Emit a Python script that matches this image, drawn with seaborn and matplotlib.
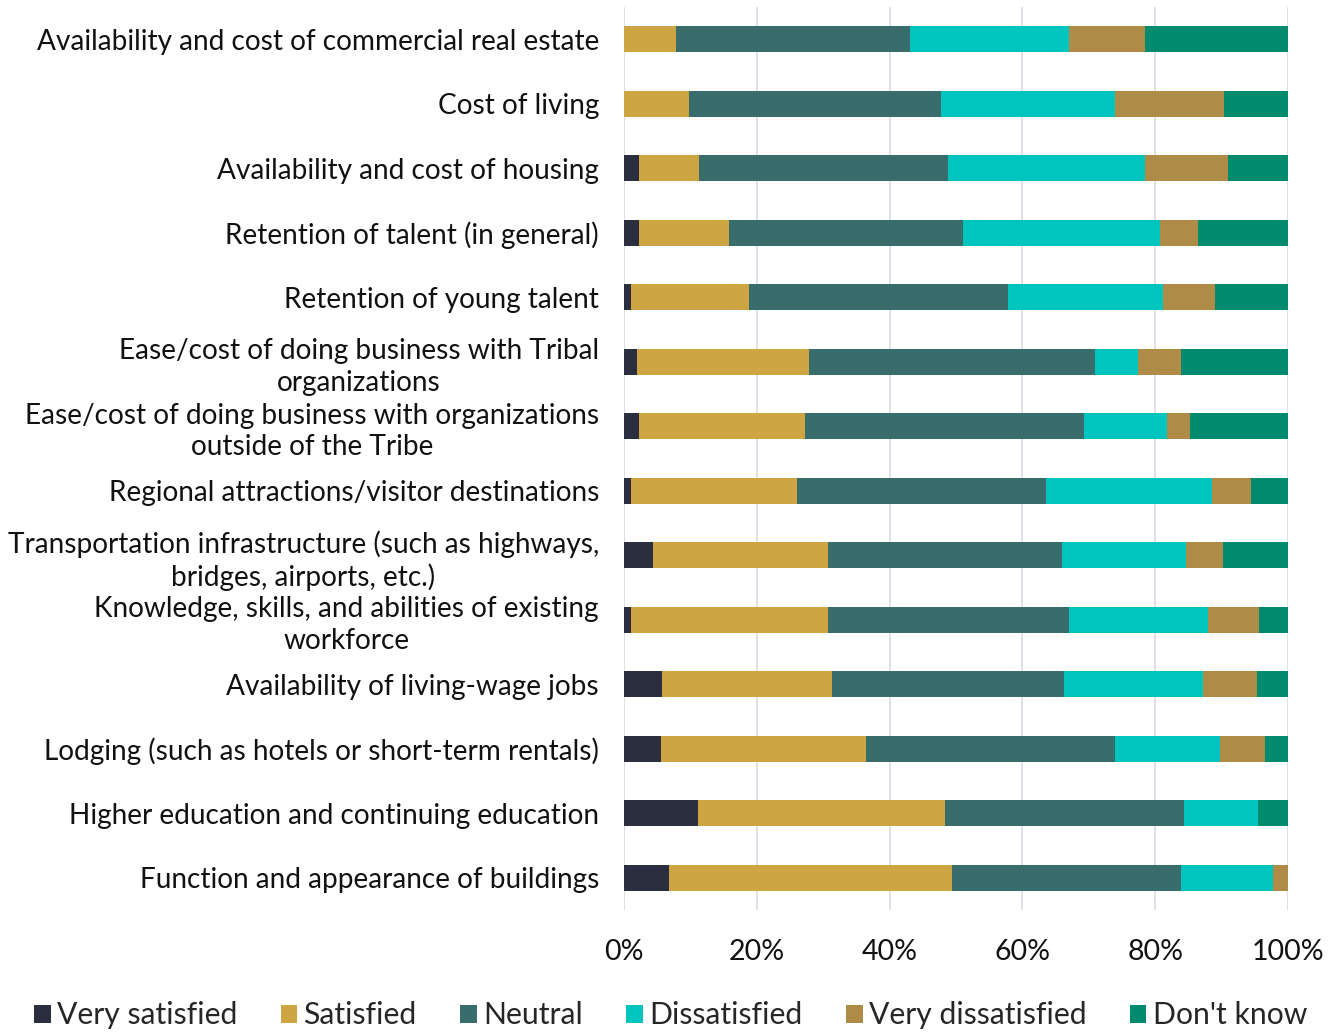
import matplotlib
matplotlib.use("Agg")
import matplotlib.pyplot as plt
from matplotlib.patches import Patch
import seaborn as sns
import pandas as pd

categories = [
    "Availability and cost of commercial real estate",
    "Cost of living",
    "Availability and cost of housing",
    "Retention of talent (in general)",
    "Retention of young talent",
    "Ease/cost of doing business with Tribal\norganizations",
    "Ease/cost of doing business with organizations\noutside of the Tribe",
    "Regional attractions/visitor destinations",
    "Transportation infrastructure (such as highways,\nbridges, airports, etc.)",
    "Knowledge, skills, and abilities of existing\nworkforce",
    "Availability of living-wage jobs",
    "Lodging (such as hotels or short-term rentals)",
    "Higher education and continuing education",
    "Function and appearance of buildings",
]

very_satisfied = [0, 0, 2.2, 2.2, 1.1, 2.0, 2.2, 1.1, 4.3, 1.1, 5.7, 5.6, 11.2, 6.8]
satisfied = [7.9, 9.8, 9.1, 13.6, 17.8, 25.8, 25.1, 25.0, 26.4, 29.6, 25.7, 30.8, 37.2, 42.6]
neutral = [35.2, 38.0, 37.5, 35.2, 39.0, 43.2, 42.0, 37.5, 35.2, 36.3, 34.9, 37.5, 35.9, 34.5]
dissatisfied = [23.9, 26.1, 29.7, 29.7, 23.3, 6.4, 12.5, 25.0, 18.7, 20.9, 20.9, 15.9, 11.2, 13.9]
very_dissatisfied = [11.4, 16.4, 12.5, 5.8, 7.8, 6.5, 3.5, 5.8, 5.6, 7.7, 8.2, 6.8, 0, 2.2]
dont_know = [21.6, 9.7, 9.0, 13.5, 11.0, 16.1, 14.7, 5.6, 9.8, 4.4, 4.6, 3.4, 4.5, 0]

series_names = ["Very satisfied", "Satisfied", "Neutral", "Dissatisfied",
                "Very dissatisfied", "Don't know"]
series_values = [very_satisfied, satisfied, neutral, dissatisfied,
                 very_dissatisfied, dont_know]
colors = ["#2a2e3f", "#cda643", "#386d6c", "#00c5be", "#ae8c47", "#008a6e"]
xticklabels = ["0%", "20%", "40%", "60%", "80%", "100%"]

sns.set_theme(style="white")
plt.rcParams["font.family"] = ["Lato", "DejaVu Sans"]

df = pd.DataFrame(dict(zip(series_names, series_values)), index=categories)
cum = df.cumsum(axis=1)

fig = plt.figure(figsize=(13.41, 10.32), dpi=100)
ax = fig.add_axes([0.4653, 0.1182, 0.4952, 0.875])

for name, color in reversed(list(zip(series_names, colors))):
    sns.barplot(x=cum[name].values, y=categories, orient="h", color=color,
                width=0.4, ax=ax, saturation=1, edgecolor="none", zorder=3)

ax.set_xlim(0, 100)
ax.set_ylim(13.5, -0.5)
ax.set_xticks([0, 20, 40, 60, 80, 100])
ax.set_xticklabels(xticklabels, fontsize=20.5, color="#111111")
ax.set_yticks(range(len(categories)))
ax.set_yticklabels(categories, fontsize=20.2, color="#111111",
                   multialignment="center", linespacing=1.25)
ax.tick_params(axis="both", length=0)
ax.tick_params(axis="y", pad=18)
ax.tick_params(axis="x", pad=21)
ax.xaxis.grid(True, color="#d9d9e3", linewidth=1.2, zorder=0)
ax.set_axisbelow(True)
ax.set_xlabel("")
ax.set_ylabel("")
for s in ax.spines.values():
    s.set_visible(False)

handles = [Patch(facecolor=c, edgecolor="none", label=n) for n, c in zip(series_names, colors)]
fig.legend(handles=handles, loc="center", bbox_to_anchor=(0.5, 0.016), ncol=6,
           frameon=False, fontsize=21.7, handlelength=0.55, handleheight=0.55,
           handletextpad=0.2, columnspacing=1.45)

fig.savefig("out.png", dpi=100)
